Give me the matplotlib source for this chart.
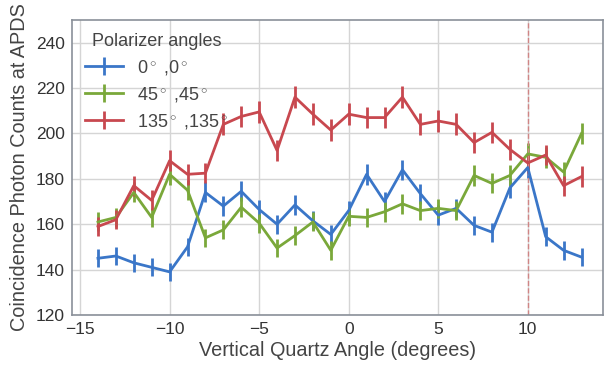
import matplotlib
matplotlib.use('Agg')
import matplotlib.pyplot as plt

plt.rcParams['font.family'] = ['Liberation Sans', 'DejaVu Sans']
plt.rcParams['mathtext.fontset'] = 'custom'
plt.rcParams['mathtext.rm'] = 'Liberation Sans'
plt.rcParams['mathtext.it'] = 'Liberation Sans'

angles = list(range(-14, 14))

counts_0 = [145, 146, 143, 141, 139, 150, 174, 168, 174.5, 166.5, 160, 168.5, 161.5, 155.5,
            166, 182, 170, 184, 173.5, 164, 167, 159.5, 156.5, 176, 185, 154.5, 148.5, 145.5]
counts_45 = [161, 163, 174, 163, 182, 175, 154, 157.5, 167.5, 160.5, 149.5, 155, 161, 148.5,
             163.5, 163, 165.5, 169, 166, 167, 166, 181.5, 178, 181.5, 191, 189.5, 183, 200]
counts_135 = [159, 162, 177, 170.5, 188, 182, 182.5, 204, 207.5, 209.5, 192.5, 216, 208.5, 201.5,
              208.5, 207, 207, 216, 204, 205.5, 204, 196, 200.5, 193, 187, 190.5, 177, 181]

err_0 = [4.0, 4.0, 4.0, 3.9, 3.9, 4.1, 4.4, 4.3, 4.4, 4.3, 4.2, 4.3, 4.2, 4.2,
         4.3, 4.5, 4.3, 4.5, 4.4, 4.3, 4.3, 4.2, 4.2, 4.4, 4.5, 4.1, 4.1, 4.0]
err_45 = [4.2, 4.3, 4.4, 4.3, 4.5, 4.4, 4.1, 4.2, 4.3, 4.2, 4.1, 4.1, 4.2, 4.1,
          4.3, 4.3, 4.3, 4.3, 4.3, 4.3, 4.3, 4.5, 4.4, 4.5, 4.6, 4.6, 4.5, 4.7]
err_135 = [4.2, 4.2, 4.4, 4.4, 4.6, 4.5, 4.5, 4.8, 4.8, 4.8, 4.6, 4.9, 4.8, 4.7,
           4.8, 4.8, 4.8, 4.9, 4.8, 4.8, 4.8, 4.7, 4.7, 4.6, 4.6, 4.6, 4.4, 4.5]

labels = [r'0$^\circ$ ,0$^\circ$', r'45$^\circ$ ,45$^\circ$', r'135$^\circ$ ,135$^\circ$']
colors = ['#3a76c8', '#7aa83a', '#c8484f']

fig = plt.figure(figsize=(6.04, 3.65), dpi=100)
ax = fig.add_axes([72/604, 1 - 315/365, 531/604, 295/365])

for y, e, lab, c in zip([counts_0, counts_45, counts_135], [err_0, err_45, err_135], labels, colors):
    ax.errorbar(angles, y, yerr=e, color=c, lw=2, elinewidth=2, capsize=0, label=lab)

ax.axvline(10, color='#d08585', ls='--', lw=1)

ax.set_xlim(-15.45, 14.2)
ax.set_ylim(120, 250)
ax.set_xticks([-15, -10, -5, 0, 5, 10])
ax.set_yticks([120, 140, 160, 180, 200, 220, 240])
ax.grid(True, color='#d5d5d5', lw=1)
ax.set_axisbelow(True)
for s in ax.spines.values():
    s.set_color('#8a9099')
    s.set_linewidth(1.2)
ax.tick_params(labelsize=12.5, colors='#333333', length=0, pad=5)
ax.set_xlabel('Vertical Quartz Angle (degrees)', fontsize=14.3, color='#444444', labelpad=3)
ax.set_ylabel('Coincidence Photon Counts at APDS', fontsize=14.3, color='#444444', labelpad=5)

leg = ax.legend(title='Polarizer angles', loc='upper left', frameon=False, fontsize=13,
                title_fontsize=13, handlelength=2.1, handletextpad=0.8,
                borderaxespad=0.3, labelspacing=0.45)
leg.get_title().set_color('#444444')
for t in leg.get_texts():
    t.set_color('#444444')

fig.savefig('out.png', dpi=100)
